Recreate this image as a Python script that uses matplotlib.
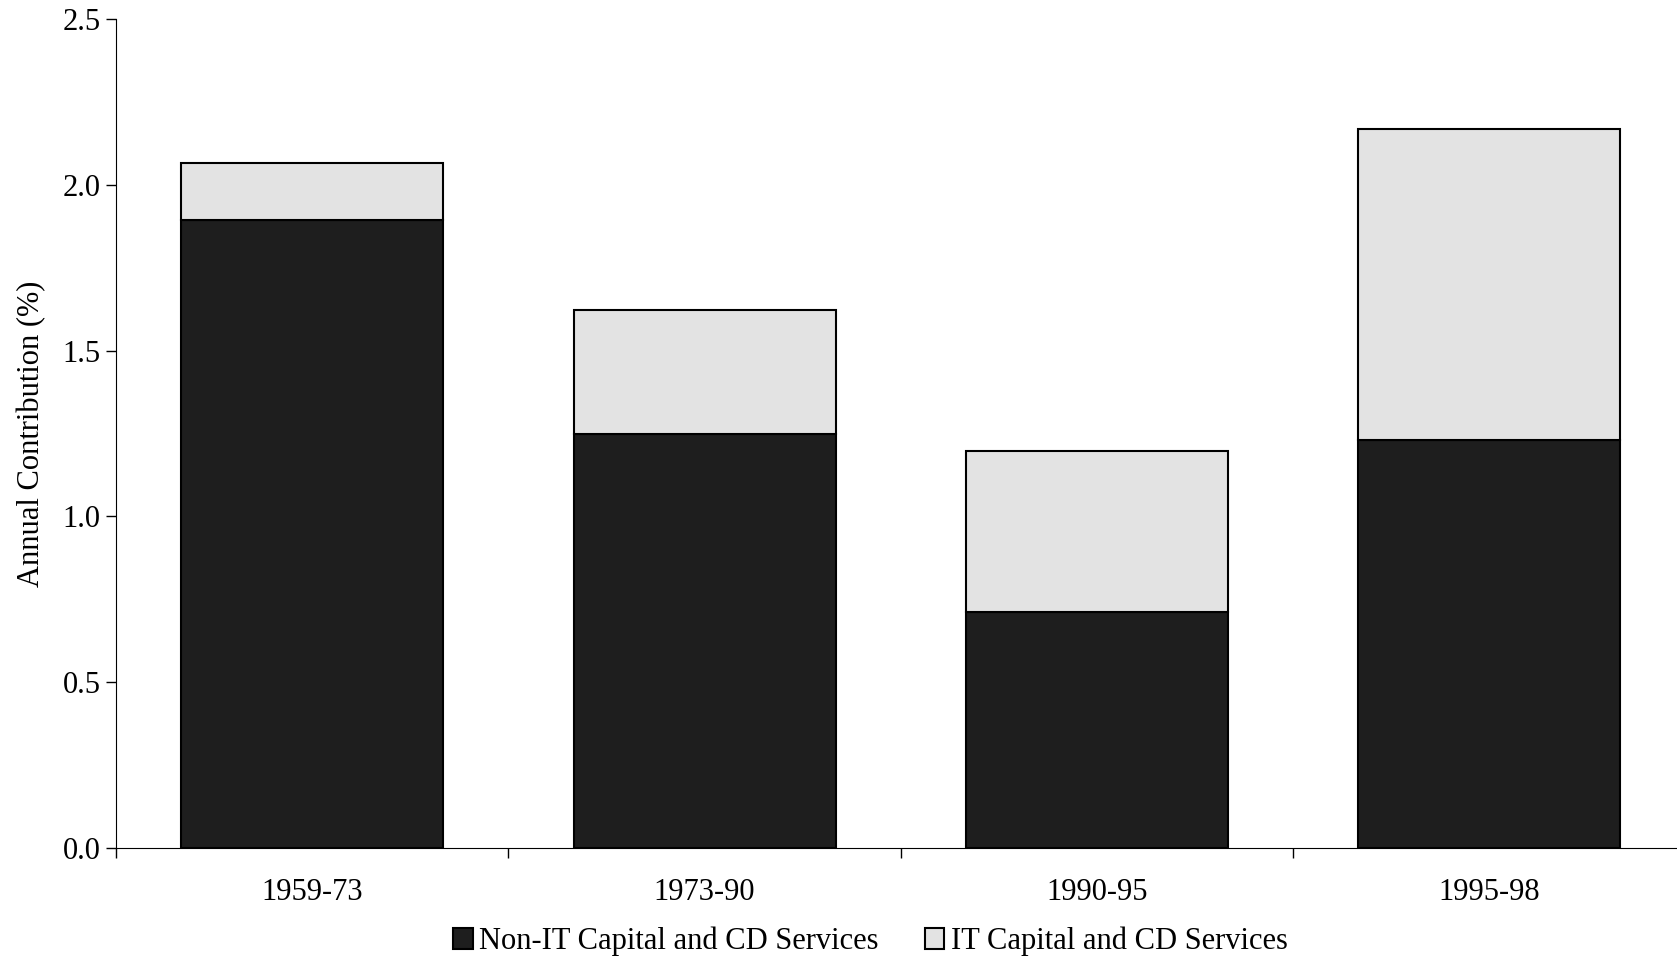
#Stacked bar chart: contribution of capital and CD services
import matplotlib.pyplot as plt
import numpy as np

#Data
periods = ["1959-73", "1973-90", "1990-95", "1995-98"]
non_it = [1.894, 1.248, 0.710, 1.229]
it = [0.172, 0.375, 0.487, 0.939]

plt.rcParams['font.family'] = ['Liberation Serif', 'DejaVu Serif']

fig = plt.figure(figsize=(16.77, 9.58), dpi=100)
ax = fig.add_axes([0.0692, 0.115, 0.9358, 0.865])

x = np.arange(len(periods))
ax.bar(x, non_it, width=0.668, color="#1e1e1e", edgecolor="black", linewidth=1.5,
       label="Non-IT Capital and CD Services")
ax.bar(x, it, width=0.668, bottom=non_it, color="#e3e3e3", edgecolor="black", linewidth=1.5,
       label="IT Capital and CD Services")

ax.set_xlim(-0.5, len(periods) - 0.5)
ax.set_ylim(0, 2.5)
ax.set_yticks(np.arange(0, 2.51, 0.5))
ax.set_yticklabels([f"{v:.1f}" for v in np.arange(0, 2.51, 0.5)])
ax.set_xticks(x)
ax.set_xticklabels(periods)
ax.set_xticks(np.arange(-0.5, len(periods)), minor=True)

#Axis styling
ax.spines['top'].set_visible(False)
ax.spines['right'].set_visible(False)
ax.tick_params(axis='y', labelsize=22, length=7, width=1, pad=4)
ax.tick_params(axis='x', which='major', labelsize=22, length=0, pad=22)
ax.tick_params(axis='x', which='minor', length=7, width=1)

ax.set_ylabel("Annual Contribution (%)", fontsize=22)
ax.yaxis.set_label_coords(-0.0448, 0.5)

fig.legend(loc='center', bbox_to_anchor=(0.519, 0.017), ncol=2, frameon=False,
           fontsize=22, handlelength=0.65, handleheight=0.7, handletextpad=0.2,
           columnspacing=1.5)

plt.savefig("out.png", dpi=100)
